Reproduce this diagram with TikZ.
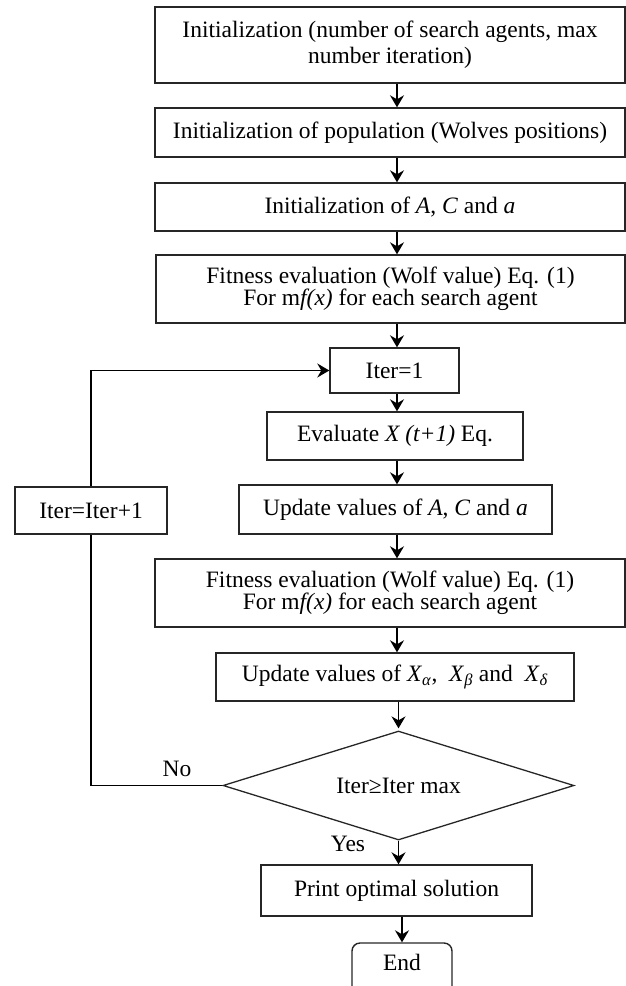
\documentclass[tikz,border=0pt]{standalone}
\usepackage{fontspec}
\setmainfont{Liberation Serif}
\usetikzlibrary{shapes.geometric,arrows.meta}
\begin{document}
\begin{tikzpicture}[x=1pt,y=-1pt,
  every node/.style={font=\fontsize{23.5}{26}\selectfont},
  box/.style={draw=black!85,line width=1.4pt,rectangle,inner sep=0pt,align=center},
  dia/.style={draw=black!85,line width=1.3pt,diamond,shape aspect=3.2,inner sep=0pt,align=center},
  arr/.style={line width=1.4pt,-{Stealth[length=12pt,width=14pt,inset=4pt]}},
  ln/.style={line width=1.4pt},
  lbl/.style={inner sep=0pt}]
\useasboundingbox (0,0) rectangle (626,986);
\clip (0,0) rectangle (626,986);
\coordinate (col) at (397,0);
\node[box,minimum width=470,minimum height=76] (b1) at (390,45)
  {Initialization (number of search agents, max\\number iteration)};
\node[box,minimum width=470,minimum height=49] (b2) at (390,132.5)
  {Initialization of population (Wolves positions)};
\node[box,minimum width=470,minimum height=48] (b3) at (390,207)
  {Initialization of \textit{A}, \textit{C} and \textit{a}};
\node[box,minimum width=469,minimum height=68,font=\fontsize{23.5}{22.5}\selectfont] (b4) at (390.5,289)
  {Fitness evaluation (Wolf value) Eq. (1)\\For m\textit{f(x)} for each search agent};
\node[box,minimum width=129,minimum height=45] (it1) at (394.5,370.5) {Iter=1};
\node[box,minimum width=256,minimum height=48] (ev) at (395,436)
  {Evaluate \textit{X (t+1)} Eq.};
\node[box,minimum width=313,minimum height=49] (ua) at (395.5,509.5)
  {Update values of \textit{A}, \textit{C} and \textit{a}};
\node[box,minimum width=152,minimum height=47] (inc) at (91,510.5) {Iter=Iter+1};
\node[box,minimum width=470,minimum height=68,font=\fontsize{23.5}{22.5}\selectfont] (f2) at (390,593)
  {Fitness evaluation (Wolf value) Eq. (1)\\For m\textit{f(x)} for each search agent};
\node[box,minimum width=358,minimum height=48] (ux) at (395,677)
  {Update values of \textit{X}\textsubscript{\textit{α}},~ \textit{X}\textsubscript{\textit{β}} and ~\textit{X}\textsubscript{\textit{δ}}};
\node[dia,minimum width=351,minimum height=109] (d) at (398.5,785.5) {Iter≥Iter max};
\node[box,minimum width=271,minimum height=51] (pr) at (396.5,890.5) {Print optimal solution};
\node[box,rounded corners=8pt,minimum width=100,minimum height=54] (en) at (402,970) {};
\node[lbl] (entext) at (402,962) {End};
\node[lbl] (no) at (177,769) {No};
\node[lbl] (yes) at (348,844) {Yes};
\draw[arr] (b1.south -| col) -- (b2.north -| col);
\draw[arr] (b2.south -| col) -- (b3.north -| col);
\draw[arr] (b3.south -| col) -- (b4.north -| col);
\draw[arr] (b4.south -| col) -- (it1.north -| col);
\draw[arr] (it1.south -| col) -- (ev.north -| col);
\draw[arr] (ev.south -| col) -- (ua.north -| col);
\draw[arr] (ua.south -| col) -- (f2.north -| col);
\draw[arr] (f2.south -| col) -- (ux.north -| col);
\draw[arr,shorten >=2pt] (ux.south -| d.north) -- (d.north);
\draw[arr] (d.south) -- (pr.north -| d.south);
\draw[arr] (pr.south -| en.north) -- (en.north);
\draw[ln] (d.west) -| (inc.south);
\draw[arr] (inc.north) |- (it1.west);
\end{tikzpicture}
\end{document}
